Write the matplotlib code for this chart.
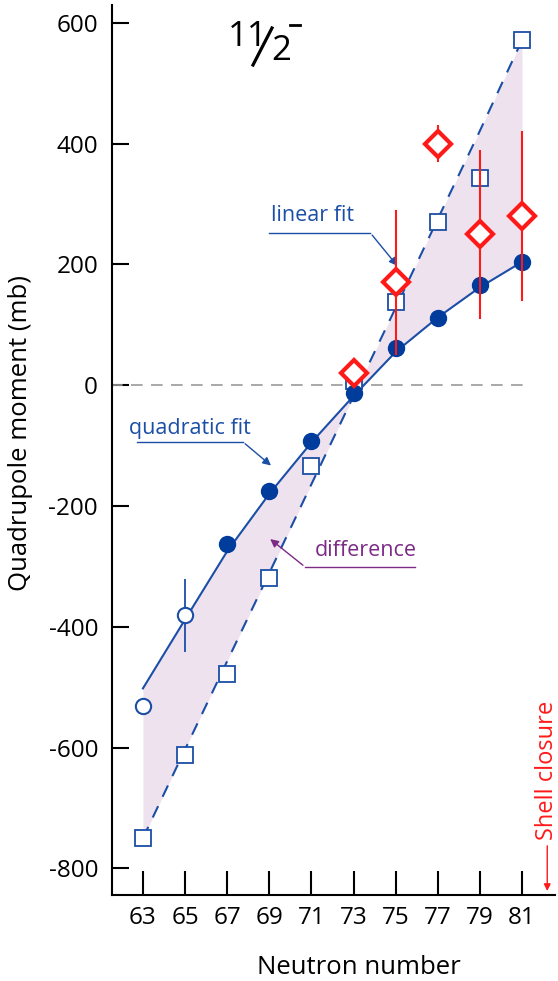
import numpy as np
import matplotlib
matplotlib.use("Agg")
import matplotlib.pyplot as plt
from matplotlib.lines import Line2D

plt.rcParams['font.family'] = ['Open Sans', 'DejaVu Sans']
plt.rcParams['axes.unicode_minus'] = False

# neutron numbers
n_all = [63, 65, 67, 69, 71, 73, 75, 77, 79, 81]

# quadratic fit points (open = extrapolated, filled = calculated)
n_open = [63, 65]
q_open = [-531, -381]
q_open_err = [0, 60]
n_filled = [67, 69, 71, 73, 75, 77, 79, 81]
q_filled = [-263, -175, -93, -13, 61, 111, 166, 204]
# quadratic fit curve, read at each odd N
q_curve = [-502, -388, -275, -180, -95, -18, 55, 112, 162, 204]

# linear fit points and line
q_square = [-750, -612, -478, -320, -134, 7, 137, 270, 343, 571]
q_line = [-750, -603, -457, -311, -164, -18, 128, 275, 421, 571]

# experimental values
n_exp = [73, 75, 77, 79, 81]
q_exp = [20, 170, 400, 250, 280]
q_exp_err = [0, 120, 30, 140, 140]

blue = '#1b4ea6'
navy = '#003c9c'
red = '#ff1a1a'
purple = '#7b2a86'

W, H = 558, 981
fig = plt.figure(figsize=(W / 100, H / 100), dpi=100)
ax = fig.add_axes([0.2007, 0.0877, 0.794, 0.907])

ax.fill_between(n_all, q_curve, q_line, color='#efe2ef', lw=0, zorder=1)
ax.plot([61.5, 81.25], [0, 0], color='#9a9a9a', lw=1.2, dashes=(7, 5), zorder=2)
ax.plot(n_all, q_curve, color=blue, lw=1.5, zorder=3)
ax.plot(n_all, q_line, color=blue, lw=1.5, dashes=(6, 5), zorder=3)

ax.plot(n_all, q_square, ls='none', marker='s', ms=11, mfc='white', mec=blue, mew=1.3, zorder=4)
ax.errorbar(n_open, q_open, yerr=q_open_err, fmt='o', ms=11, mfc='white', mec=blue, mew=1.5,
            ecolor=blue, elinewidth=1.3, capsize=0, zorder=5)
ax.plot(n_filled, q_filled, ls='none', marker='o', ms=11.5, color=navy, zorder=5)

ax.errorbar(n_exp, q_exp, yerr=q_exp_err, fmt='none', ecolor=red, elinewidth=1.5, capsize=0, zorder=6)
ax.plot(n_exp, q_exp, ls='none', marker='D', ms=13, mfc='white', mec=red, mew=3, zorder=7)

# annotations
ax.text(71.03, 281, 'linear fit', color=blue, fontsize=15.5, ha='center', va='center')
ax.plot([69.0, 73.8], [252, 252], color=blue, lw=1)
ax.annotate('', xy=(75.16, 194), xytext=(73.8, 252),
            arrowprops=dict(arrowstyle='-|>', color=blue, lw=1, mutation_scale=12))

ax.text(65.23, -71, 'quadratic fit', color=blue, fontsize=15.5, ha='center', va='center')
ax.plot([62.7, 67.75], [-94, -94], color=blue, lw=1)
ax.annotate('', xy=(69.18, -136), xytext=(67.75, -94),
            arrowprops=dict(arrowstyle='-|>', color=blue, lw=1, mutation_scale=12))

ax.text(73.6, -273, 'difference', color=purple, fontsize=15.5, ha='center', va='center')
ax.plot([70.7, 75.9], [-301, -301], color=purple, lw=1)
ax.annotate('', xy=(68.94, -252), xytext=(70.7, -301),
            arrowprops=dict(arrowstyle='-|>', color=purple, lw=1, mutation_scale=12))

ax.text(82.2, -637, 'Shell closure', color=red, fontsize=17, rotation=90, ha='center', va='center')
ax.annotate('', xy=(82.2, -842), xytext=(82.2, -758),
            arrowprops=dict(arrowstyle='-|>', color=red, lw=1, mutation_scale=10))

# spin label 11/2-
fig.text(248 / W, 1 - 37.5 / H, '11', fontsize=25, ha='center', va='center')
fig.text(281 / W, 1 - 50.5 / H, '2', fontsize=25, ha='center', va='center')
fig.add_artist(Line2D([253 / W, 272 / W], [1 - 65 / H, 1 - 28 / H], color='black', lw=2.3,
                      transform=fig.transFigure))
fig.add_artist(Line2D([290 / W, 300 / W], [1 - 25 / H, 1 - 25 / H], color='black', lw=2,
                      transform=fig.transFigure))

ax.set_xlim(61.53, 82.57)
ax.set_ylim(-844, 629)
ax.set_xticks(n_all)
ax.set_yticks([-800, -600, -400, -200, 0, 200, 400, 600])
ax.tick_params(axis='x', direction='in', length=17, width=1.5, labelsize=17.5, pad=8)
ax.tick_params(axis='y', direction='in', length=12, width=1.5, labelsize=17.5, pad=10)
for s in ['top', 'right']:
    ax.spines[s].set_visible(False)
for s in ['left', 'bottom']:
    ax.spines[s].set_linewidth(1.5)

ax.set_xlabel('Neutron number', fontsize=18.5)
ax.set_ylabel('Quadrupole moment (mb)', fontsize=18.5)
ax.xaxis.set_label_coords(0.558, -0.067)
ax.yaxis.set_label_coords(-0.178, 0.519)

fig.savefig('out.png', dpi=100)
